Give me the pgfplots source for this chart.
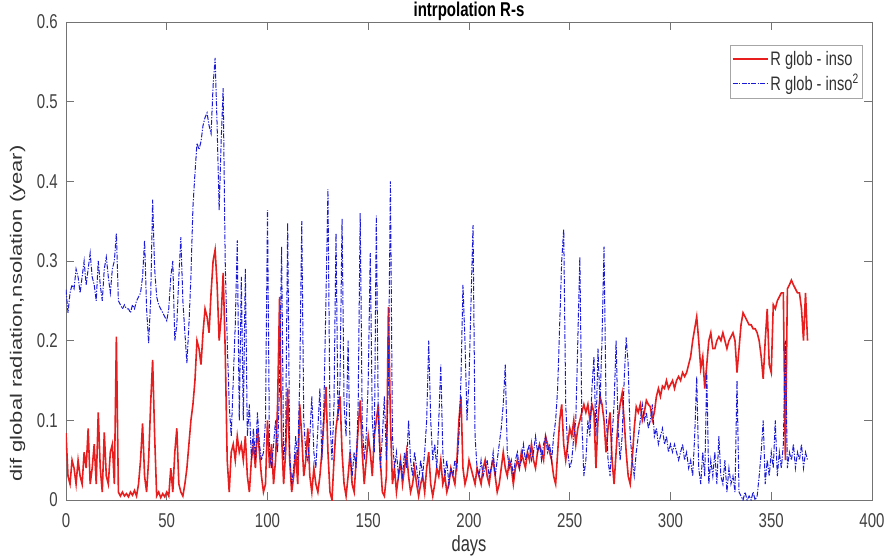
\documentclass[border=0pt]{standalone}
\usepackage{fontspec}
\setmainfont{Liberation Sans}[FakeStretch=0.75]
\newfontfamily\ylfont{Liberation Sans}
\usepackage{pgfplots}
\usepackage{pgfplotstable}
\pgfplotsset{compat=1.18}
\definecolor{mred}{RGB}{232,30,30}
\definecolor{mblue}{RGB}{25,25,215}
\begin{document}
\pgfplotstableread[row sep=\\]{x y\\
0 0.084\\1 0.03\\2 0.02\\3 0.05\\4 0.04\\5 0.02\\6 0.05\\7 0.03\\8 0.02\\9 0.06\\
10 0.04\\11 0.09\\12 0.02\\13 0.04\\14 0.07\\15 0.02\\16 0.11\\17 0.04\\18 0.01\\19 0.085\\
20 0.03\\21 0.02\\22 0.06\\23 0.07\\24 0.02\\25 0.205\\26 0.01\\27 0.005\\28 0.01\\29 0.005\\
30 0.008\\31 0.004\\32 0.01\\33 0.006\\34 0.012\\35 0.005\\36 0.02\\37 0.05\\38 0.096\\39 0.03\\
40 0.01\\41 0.05\\42 0.12\\43 0.176\\44 0.08\\45 0.005\\46 0.01\\47 0.003\\48 0.008\\49 0.004\\
50 0.01\\51 0.005\\52 0.04\\53 0.01\\54 0.06\\55 0.09\\56 0.02\\57 0.01\\58 0.005\\59 0.02\\
60 0.04\\61 0.07\\62 0.10\\63 0.12\\64 0.15\\65 0.20\\66 0.19\\67 0.17\\68 0.21\\69 0.24\\
70 0.23\\71 0.21\\72 0.26\\73 0.30\\74 0.314\\75 0.27\\76 0.20\\77 0.23\\78 0.285\\79 0.19\\
80 0.05\\81 0.01\\82 0.06\\83 0.07\\84 0.05\\85 0.08\\86 0.06\\87 0.07\\88 0.05\\89 0.08\\
90 0.03\\91 0.01\\92 0.05\\93 0.07\\94 0.04\\95 0.09\\96 0.06\\97 0.03\\98 0.01\\99 0.02\\
100 0.10\\101 0.04\\102 0.07\\103 0.02\\104 0.05\\105 0.12\\106 0.255\\107 0.08\\108 0.02\\109 0.06\\
110 0.14\\111 0.05\\112 0.01\\113 0.03\\114 0.06\\115 0.02\\116 0.12\\117 0.08\\118 0.03\\119 0.05\\
120 0.09\\121 0.03\\122 0.01\\123 0.04\\124 0.02\\125 0.01\\126 0.03\\127 0.06\\128 0.10\\129 0.142\\
130 0.06\\131 0.01\\132 0.0\\133 0.05\\134 0.09\\135 0.11\\136 0.13\\137 0.06\\138 0.02\\139 0.005\\
140 0.03\\141 0.06\\142 0.02\\143 0.01\\144 0.05\\145 0.09\\146 0.125\\147 0.06\\148 0.02\\149 0.05\\
150 0.08\\151 0.06\\152 0.03\\153 0.08\\154 0.10\\155 0.12\\156 0.05\\157 0.01\\158 0.005\\159 0.03\\
160 0.242\\161 0.10\\162 0.02\\163 0.04\\164 0.01\\165 0.03\\166 0.05\\167 0.02\\168 0.04\\169 0.06\\
170 0.03\\171 0.01\\172 0.02\\173 0.04\\174 0.02\\175 0.005\\176 0.02\\177 0.03\\178 0.01\\179 0.04\\
180 0.06\\181 0.02\\182 0.005\\183 0.02\\184 0.04\\185 0.03\\186 0.05\\187 0.02\\188 0.03\\189 0.01\\
190 0.02\\191 0.04\\192 0.03\\193 0.02\\194 0.05\\195 0.10\\196 0.13\\197 0.04\\198 0.02\\199 0.03\\
200 0.05\\201 0.04\\202 0.03\\203 0.02\\204 0.04\\205 0.03\\206 0.02\\207 0.04\\208 0.05\\209 0.03\\
210 0.02\\211 0.04\\212 0.05\\213 0.03\\214 0.01\\215 0.02\\216 0.04\\217 0.06\\218 0.04\\219 0.03\\
220 0.05\\221 0.04\\222 0.02\\223 0.04\\224 0.05\\225 0.04\\226 0.06\\227 0.05\\228 0.04\\229 0.06\\
230 0.05\\231 0.07\\232 0.05\\233 0.04\\234 0.06\\235 0.07\\236 0.06\\237 0.05\\238 0.08\\239 0.07\\
240 0.06\\241 0.05\\242 0.03\\243 0.02\\244 0.06\\245 0.10\\246 0.12\\247 0.07\\248 0.05\\249 0.07\\
250 0.09\\251 0.08\\252 0.10\\253 0.07\\254 0.09\\255 0.10\\256 0.11\\257 0.12\\258 0.11\\259 0.12\\
260 0.10\\261 0.12\\262 0.11\\263 0.04\\264 0.10\\265 0.13\\266 0.12\\267 0.10\\268 0.06\\269 0.09\\
270 0.11\\271 0.05\\272 0.02\\273 0.06\\274 0.10\\275 0.12\\276 0.134\\277 0.10\\278 0.06\\279 0.03\\
280 0.02\\281 0.05\\282 0.09\\283 0.117\\284 0.11\\285 0.12\\286 0.10\\287 0.11\\288 0.125\\289 0.12\\
290 0.117\\291 0.10\\292 0.11\\293 0.13\\294 0.14\\295 0.13\\296 0.143\\297 0.14\\298 0.15\\299 0.14\\
300 0.145\\301 0.15\\302 0.14\\303 0.15\\304 0.155\\305 0.15\\306 0.16\\307 0.155\\308 0.16\\309 0.17\\
310 0.18\\311 0.20\\312 0.215\\313 0.23\\314 0.20\\315 0.165\\316 0.18\\317 0.14\\318 0.17\\319 0.20\\
320 0.21\\321 0.19\\322 0.19\\323 0.20\\324 0.205\\325 0.20\\326 0.21\\327 0.20\\328 0.19\\329 0.20\\
330 0.205\\331 0.21\\332 0.20\\333 0.16\\334 0.19\\335 0.22\\336 0.235\\337 0.23\\338 0.225\\339 0.22\\
340 0.22\\341 0.215\\342 0.215\\343 0.21\\344 0.20\\345 0.18\\346 0.152\\347 0.20\\348 0.24\\349 0.17\\
350 0.16\\351 0.245\\352 0.24\\353 0.25\\354 0.255\\355 0.26\\356 0.26\\357 0.05\\358 0.265\\359 0.27\\
360 0.276\\361 0.27\\362 0.265\\363 0.26\\364 0.26\\365 0.24\\366 0.20\\367 0.26\\368 0.20\\
}\redT
\pgfplotstableread[row sep=\\]{x y\\
0 0.264\\1 0.235\\2 0.26\\3 0.27\\4 0.265\\5 0.29\\6 0.28\\7 0.26\\8 0.28\\9 0.30\\
10 0.27\\11 0.29\\12 0.31\\13 0.28\\14 0.27\\15 0.25\\16 0.30\\17 0.27\\18 0.25\\19 0.29\\
20 0.305\\21 0.28\\22 0.26\\23 0.29\\24 0.30\\25 0.335\\26 0.25\\27 0.245\\28 0.24\\29 0.245\\
30 0.24\\31 0.24\\32 0.235\\33 0.245\\34 0.24\\35 0.25\\36 0.255\\37 0.26\\38 0.28\\39 0.326\\
40 0.24\\41 0.197\\42 0.25\\43 0.377\\44 0.29\\45 0.255\\46 0.245\\47 0.24\\48 0.235\\49 0.23\\
50 0.225\\51 0.24\\52 0.28\\53 0.30\\54 0.20\\55 0.22\\56 0.28\\57 0.33\\58 0.25\\59 0.21\\
60 0.172\\61 0.22\\62 0.28\\63 0.368\\64 0.41\\65 0.448\\66 0.44\\67 0.45\\68 0.47\\69 0.48\\
70 0.486\\71 0.47\\72 0.46\\73 0.52\\74 0.555\\75 0.47\\76 0.364\\77 0.45\\78 0.517\\79 0.30\\
80 0.20\\81 0.12\\82 0.08\\83 0.15\\84 0.22\\85 0.326\\86 0.10\\87 0.28\\88 0.10\\89 0.29\\
90 0.08\\91 0.12\\92 0.05\\93 0.09\\94 0.05\\95 0.11\\96 0.07\\97 0.05\\98 0.06\\99 0.10\\
100 0.364\\101 0.06\\102 0.04\\103 0.07\\104 0.10\\105 0.06\\106 0.15\\107 0.318\\108 0.05\\109 0.08\\
110 0.348\\111 0.06\\112 0.02\\113 0.04\\114 0.08\\115 0.05\\116 0.15\\117 0.35\\118 0.10\\119 0.06\\
120 0.05\\121 0.08\\122 0.13\\123 0.06\\124 0.04\\125 0.09\\126 0.14\\127 0.05\\128 0.12\\129 0.25\\
130 0.39\\131 0.10\\132 0.05\\133 0.12\\134 0.335\\135 0.10\\136 0.15\\137 0.353\\138 0.12\\139 0.08\\
140 0.20\\141 0.06\\142 0.03\\143 0.06\\144 0.04\\145 0.12\\146 0.36\\147 0.10\\148 0.05\\149 0.08\\
150 0.15\\151 0.31\\152 0.10\\153 0.06\\154 0.357\\155 0.10\\156 0.04\\157 0.08\\158 0.13\\159 0.05\\
160 0.15\\161 0.40\\162 0.08\\163 0.04\\164 0.06\\165 0.03\\166 0.05\\167 0.03\\168 0.06\\169 0.04\\
170 0.10\\171 0.05\\172 0.03\\173 0.06\\174 0.04\\175 0.02\\176 0.05\\177 0.03\\178 0.06\\179 0.10\\
180 0.20\\181 0.10\\182 0.05\\183 0.07\\184 0.04\\185 0.10\\186 0.17\\187 0.06\\188 0.03\\189 0.05\\
190 0.02\\191 0.04\\192 0.03\\193 0.05\\194 0.04\\195 0.08\\196 0.15\\197 0.27\\198 0.20\\199 0.10\\
200 0.15\\201 0.25\\202 0.345\\203 0.08\\204 0.04\\205 0.03\\206 0.05\\207 0.03\\208 0.04\\209 0.05\\
210 0.03\\211 0.04\\212 0.06\\213 0.03\\214 0.05\\215 0.07\\216 0.09\\217 0.12\\218 0.17\\219 0.06\\
220 0.04\\221 0.05\\222 0.03\\223 0.05\\224 0.06\\225 0.04\\226 0.05\\227 0.07\\228 0.05\\229 0.06\\
230 0.07\\231 0.05\\232 0.06\\233 0.08\\234 0.06\\235 0.07\\236 0.05\\237 0.07\\238 0.08\\239 0.06\\
240 0.07\\241 0.05\\242 0.08\\243 0.10\\244 0.14\\245 0.22\\246 0.30\\247 0.34\\248 0.12\\249 0.06\\
250 0.04\\251 0.05\\252 0.08\\253 0.10\\254 0.20\\255 0.305\\256 0.10\\257 0.03\\258 0.05\\259 0.10\\
260 0.08\\261 0.14\\262 0.18\\263 0.08\\264 0.19\\265 0.12\\266 0.20\\267 0.318\\268 0.12\\269 0.05\\
270 0.03\\271 0.08\\272 0.12\\273 0.20\\274 0.09\\275 0.05\\276 0.08\\277 0.15\\278 0.204\\279 0.17\\
280 0.08\\281 0.05\\282 0.03\\283 0.06\\284 0.08\\285 0.10\\286 0.12\\287 0.10\\288 0.11\\289 0.09\\
290 0.10\\291 0.12\\292 0.08\\293 0.09\\294 0.07\\295 0.08\\296 0.09\\297 0.07\\298 0.08\\299 0.06\\
300 0.07\\301 0.06\\302 0.07\\303 0.06\\304 0.05\\305 0.06\\306 0.07\\307 0.05\\308 0.06\\309 0.04\\
310 0.05\\311 0.03\\312 0.08\\313 0.155\\314 0.04\\315 0.02\\316 0.06\\317 0.03\\318 0.16\\319 0.02\\
320 0.05\\321 0.03\\322 0.06\\323 0.02\\324 0.08\\325 0.03\\326 0.02\\327 0.05\\328 0.01\\329 0.04\\
330 0.02\\331 0.03\\332 0.01\\333 0.15\\334 0.01\\335 0.005\\336 0.0\\337 0.01\\338 0.0\\339 0.005\\
340 0.0\\341 0.01\\342 0.0\\343 0.005\\344 0.03\\345 0.06\\346 0.10\\347 0.02\\348 0.05\\349 0.03\\
350 0.06\\351 0.04\\352 0.10\\353 0.03\\354 0.06\\355 0.04\\356 0.07\\357 0.20\\358 0.04\\359 0.06\\
360 0.05\\361 0.07\\362 0.04\\363 0.06\\364 0.05\\365 0.07\\366 0.04\\367 0.06\\368 0.05\\
}\blueT
\begin{tikzpicture}
\path[use as bounding box] (-66pt,-57pt) rectangle (824pt,500pt);
\begin{axis}[
  scale only axis, width=806pt, height=478pt,
  xmin=0, xmax=400, ymin=0, ymax=0.6,
  xtick={0,50,100,150,200,250,300,350,400},
  ytick={0,0.1,0.2,0.3,0.4,0.5,0.6},
  tick align=inside, major tick length=8pt,
  axis line style={black!55, line width=0.8pt},
  every tick/.style={black!55, line width=0.7pt},
  /pgf/number format/assume math mode=true,
  tick label style={font=\fontsize{20}{22}\selectfont, text=black!75},
  xticklabel style={anchor=base, yshift=-27pt},
  yticklabel style={anchor=east, inner sep=0pt, xshift=-8pt},
  title={intrpolation R-s},
  every axis title/.style={font=\bfseries\fontsize{20}{22}\selectfont, at={(0.5,1)}, anchor=base, yshift=5pt, inner sep=0pt},
  xlabel={days},
  xlabel style={font=\fontsize{22}{24}\selectfont, at={(0.5,0)}, anchor=base, yshift=-51pt, text=black!80},
  ylabel={dif global radiation,nsolation (year)},
  every axis y label/.style={at={(-0.06,0.39)}, font=\ylfont\fontsize{22}{24}\selectfont, xscale=0.75, rotate=90, anchor=center, text=black!80},
  legend style={at={(1,1)}, anchor=north east, xshift=-9pt, yshift=-23pt, draw=black!35, line width=0.6pt, font=\fontsize{19.5}{22}\selectfont, inner xsep=2pt, inner ysep=4pt, row sep=3pt, cells={anchor=west}, text=black!80},
  legend image code/.code={\draw[#1] (0pt,0pt) -- (35pt,0pt);},
]
\addplot[mred, line width=1.6pt] table[x=x,y=y] {\redT};
\addlegendentry{R glob - inso}
\addplot[mblue, line width=1pt, dash pattern=on 5pt off 1.5pt on 1.2pt off 1.5pt] table[x=x,y=y] {\blueT};
\addlegendentry{R glob - inso\textsuperscript{2}}
\end{axis}
\end{tikzpicture}
\end{document}
